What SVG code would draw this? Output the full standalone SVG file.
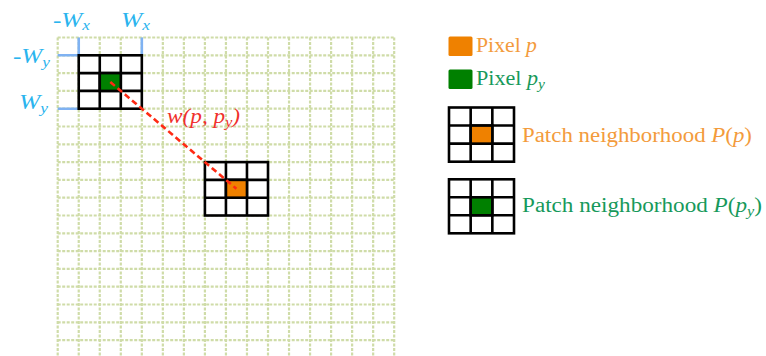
<svg xmlns="http://www.w3.org/2000/svg" width="766" height="356" viewBox="0 0 766 356">
<style>
.grid{fill:none;stroke:#cfdca8;stroke-width:2.2;stroke-dasharray:3 1.5}
.cell{fill:#ffffff;stroke:#000;stroke-width:2.6}
.blueline{fill:none;stroke:#7fb2f2;stroke-width:2.6}
.blue{fill:#2ab4ee;font-family:"Liberation Serif",serif;font-size:20.5px;font-style:italic}
.sub{font-size:14px}
.txt{font-family:"Liberation Serif",serif;font-size:20px}
.math{font-style:italic}
.org{fill:#f39b3c}
.grn{fill:#17995b}
.red{fill:#f0302c;font-family:"Liberation Serif",serif;font-size:20.5px;font-style:italic}
.conn{fill:none;stroke:#ff2a14;stroke-width:2.6;stroke-dasharray:6 3.5}
</style>
<rect width="766" height="356" fill="#ffffff"/>
<g id="grid">
<path class="grid" d="M57.7 37.5V356M78.73 37.5V356M99.76 37.5V356M120.79 37.5V356M141.82 37.5V356M162.85 37.5V356M183.88 37.5V356M204.91 37.5V356M225.94 37.5V356M246.97 37.5V356M268 37.5V356M289.03 37.5V356M310.06 37.5V356M331.09 37.5V356M352.12 37.5V356M373.15 37.5V356M394.18 37.5V356"/>
<path class="grid" d="M57.7 37.5H394.2M57.7 55.3H394.2M57.7 73.1H394.2M57.7 90.9H394.2M57.7 108.7H394.2M57.7 126.5H394.2M57.7 144.3H394.2M57.7 162.1H394.2M57.7 179.9H394.2M57.7 197.7H394.2M57.7 215.5H394.2M57.7 233.3H394.2M57.7 251.1H394.2M57.7 268.9H394.2M57.7 286.7H394.2M57.7 304.5H394.2M57.7 322.3H394.2M57.7 340.1H394.2"/>
</g>
<g id="window-bounds">
<path class="blueline" d="M78.73 37.5V55.3M141.82 37.5V55.3M57.7 55.3H78.73M57.7 108.7H78.73"/>
<text class="blue" x="53" y="27" textLength="37" lengthAdjust="spacingAndGlyphs"><tspan font-style="normal">-</tspan>W<tspan class="sub" dy="3">x</tspan></text>
<text class="blue" x="121" y="27" textLength="29" lengthAdjust="spacingAndGlyphs">W<tspan class="sub" dy="3">x</tspan></text>
<text class="blue" x="13" y="62.5" textLength="37" lengthAdjust="spacingAndGlyphs"><tspan font-style="normal">-</tspan>W<tspan class="sub" dy="4">y</tspan></text>
<text class="blue" x="19" y="108.5" textLength="29" lengthAdjust="spacingAndGlyphs">W<tspan class="sub" dy="4">y</tspan></text>
</g>
<g id="patch-py">
<rect class="cell" x="78.73" y="55.3" width="63.09" height="53.4"/>
<path class="cell" d="M99.76 55.3V108.7M120.79 55.3V108.7M78.73 73.1H141.82M78.73 90.9H141.82"/>
<rect x="99.76" y="73.1" width="21.03" height="17.8" fill="#008000" stroke="#000" stroke-width="2.6"/>
</g>
<g id="patch-p">
<rect class="cell" x="204.91" y="162.1" width="63.09" height="53.4"/>
<path class="cell" d="M225.94 162.1V215.5M246.97 162.1V215.5M204.91 179.9H268M204.91 197.7H268"/>
<rect x="225.94" y="179.9" width="21.03" height="17.8" fill="#ef8100" stroke="#000" stroke-width="2.6"/>
</g>
<g id="connectors">
<path class="conn" d="M110.3 82L236.4 188.8"/>
<text class="red" x="167" y="123" textLength="73" lengthAdjust="spacingAndGlyphs">w(p, p<tspan class="sub" dy="4">y</tspan><tspan dy="-4">)</tspan></text>
</g>
<g id="legend-pixel-p">
<rect x="448.5" y="36.5" width="24" height="19.5" rx="1.5" fill="#ef8100"/>
<text class="txt org" x="476" y="52" textLength="61" lengthAdjust="spacingAndGlyphs">Pixel <tspan class="math">p</tspan></text>
</g>
<g id="legend-pixel-py">
<rect x="448.5" y="69.5" width="24" height="19.5" rx="1.5" fill="#008000"/>
<text class="txt grn" x="476" y="85" textLength="69" lengthAdjust="spacingAndGlyphs">Pixel <tspan class="math">p</tspan><tspan class="math sub" dy="4">y</tspan></text>
</g>
<g id="legend-patch-p">
<rect class="cell" x="449" y="107.5" width="65" height="54.2"/>
<path class="cell" d="M470.67 107.5V161.7M492.33 107.5V161.7M449 125.57H514M449 143.63H514"/>
<rect x="470.67" y="125.57" width="21.67" height="18.07" fill="#ef8100" stroke="#000" stroke-width="2.6"/>
<text class="txt org" x="522" y="141.7" textLength="230" lengthAdjust="spacingAndGlyphs">Patch neighborhood <tspan class="math">P</tspan>(<tspan class="math">p</tspan>)</text>
</g>
<g id="legend-patch-py">
<rect class="cell" x="449" y="179.3" width="65" height="54"/>
<path class="cell" d="M470.67 179.3V233.3M492.33 179.3V233.3M449 197.3H514M449 215.3H514"/>
<rect x="470.67" y="197.3" width="21.67" height="18" fill="#008000" stroke="#000" stroke-width="2.6"/>
<text class="txt grn" x="522" y="211.7" textLength="240" lengthAdjust="spacingAndGlyphs">Patch neighborhood <tspan class="math">P</tspan>(<tspan class="math">p</tspan><tspan class="math sub" dy="4">y</tspan><tspan dy="-4">)</tspan></text>
</g>
</svg>
